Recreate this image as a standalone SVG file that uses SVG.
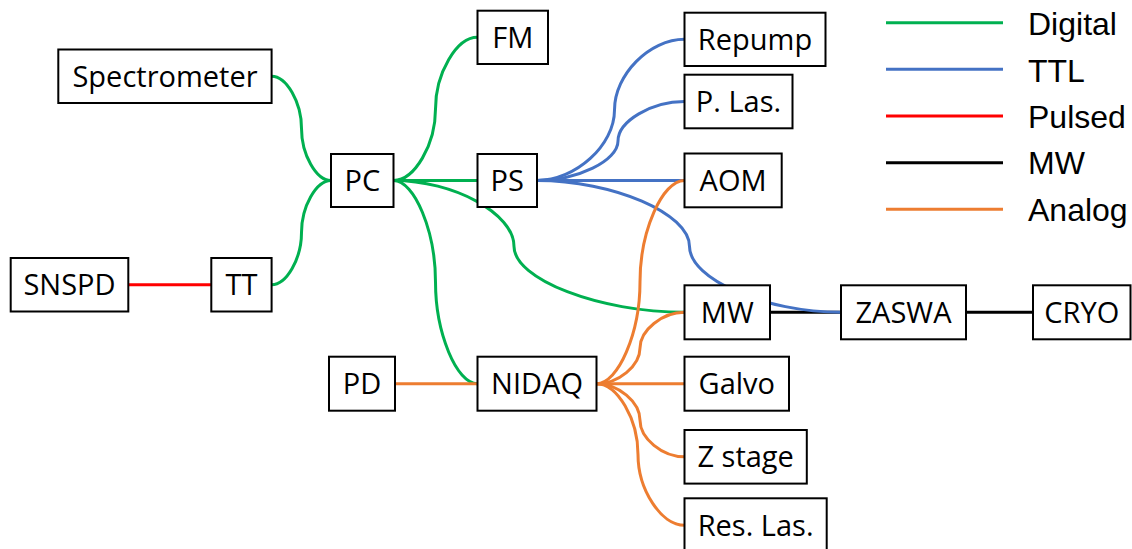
<svg xmlns="http://www.w3.org/2000/svg" width="1132" height="549" viewBox="0 0 1132 549">
<style>
.box rect{fill:#fff;stroke:#000;stroke-width:2}
.box text{font-family:"Open Sans","Noto Sans",sans-serif;font-size:29px;fill:#000;text-anchor:middle}
.c{fill:none;stroke-width:3}
.g{stroke:#00B050}.b{stroke:#4472C4}.r{stroke:#FF0000}.k{stroke:#000}.o{stroke:#ED7D31}
.lg{font-family:"Liberation Sans",Arial,sans-serif;font-size:32px;fill:#000}
</style>
<rect width="1132" height="549" fill="#fff"/>
<g id="connectors">
<path class="c g" d="M271.6,76.3 C286.5,76.3 301.5,102.4 301.5,128.4 C301.5,154.4 316.2,180.5 331,180.5"/>
<path class="c g" d="M271.6,284.7 C286.5,284.7 301.5,258.7 301.5,232.6 C301.5,206.6 316.2,180.5 331,180.5"/>
<path class="c g" d="M393.5,180.5 C414.5,180.5 435.5,144.7 435.5,108.9 C435.5,73.1 456.5,37.3 477.5,37.3"/>
<path class="c g" d="M393.5,180.5 L477.5,180.5"/>
<path class="c g" d="M393.5,180.5 C414.5,180.5 435.5,231.3 435.5,282.1 C435.5,332.9 456.5,383.7 477.5,383.7"/>
<path class="c g" d="M393.5,180.5 C453.8,180.5 514,213.5 514,246.4 C514,279.4 599.3,312.3 684.5,312.3"/>
<path class="c k" d="M770,312.3 L841,312.3"/>
<path class="c k" d="M966,312.3 L1033,312.3"/>
<path class="c b" d="M537,180.5 C575.8,180.5 614.5,145.2 614.5,109.9 C614.5,74.6 649.5,39.3 684.5,39.3"/>
<path class="c b" d="M537,180.5 C577.5,180.5 618,160.8 618,141 C618,121.3 651.3,101.5 684.5,101.5"/>
<path class="c b" d="M537,180.5 L684.5,180.5"/>
<path class="c b" d="M537,180.5 C613.3,180.5 689.5,213.5 689.5,246.4 C689.5,279.4 765.3,312.3 841,312.3"/>
<path class="c o" d="M395,383.7 L477.5,383.7"/>
<path class="c o" d="M596.5,383.7 C618.3,383.7 640,332.9 640,282 C640,231.2 662.3,180.4 684.5,180.4"/>
<path class="c o" d="M596.5,383.7 C618.3,383.7 640,365.9 640,348 C640,330.2 662.3,312.3 684.5,312.3"/>
<path class="c o" d="M596.5,383.7 L684.5,383.7"/>
<path class="c o" d="M596.5,383.7 C618.3,383.7 640,402 640,420.3 C640,438.5 662.3,456.8 684.5,456.8"/>
<path class="c o" d="M596.5,383.7 C617.3,383.7 638,419.1 638,454.5 C638,489.9 661.3,525.3 684.5,525.3"/>
<path class="c r" d="M128.3,284.7 L211.3,284.7"/>
</g>
<g id="spectrometer" class="box"><rect x="58.3" y="49.5" width="213.3" height="53.5"/><text x="165" y="86.6">Spectrometer</text></g>
<g id="fm" class="box"><rect x="477.5" y="10.7" width="70.5" height="53.3"/><text x="512.8" y="47.6">FM</text></g>
<g id="pc" class="box"><rect x="331" y="154" width="62.5" height="53"/><text x="362.3" y="190.8">PC</text></g>
<g id="ps" class="box"><rect x="477.5" y="154" width="59.5" height="53"/><text x="507.3" y="190.8">PS</text></g>
<g id="snspd" class="box"><rect x="10.7" y="258" width="117.6" height="53.5"/><text x="69.5" y="295">SNSPD</text></g>
<g id="tt" class="box"><rect x="211.3" y="258" width="60.3" height="53.5"/><text x="241.5" y="295">TT</text></g>
<g id="pd" class="box"><rect x="329" y="356.7" width="66" height="54"/><text x="362" y="394">PD</text></g>
<g id="nidaq" class="box"><rect x="477.5" y="356.7" width="119" height="54"/><text x="537" y="394">NIDAQ</text></g>
<g id="repump" class="box"><rect x="684.5" y="12.7" width="141" height="53.3"/><text x="755" y="49.6">Repump</text></g>
<g id="plas" class="box"><rect x="684.5" y="74.7" width="108" height="53.6"/><text x="738.5" y="111.8">P. Las.</text></g>
<g id="aom" class="box"><rect x="684.5" y="153.5" width="97.2" height="53.8"/><text x="733.1" y="190.7">AOM</text></g>
<g id="mw" class="box"><rect x="684.5" y="285.3" width="85.5" height="54"/><text x="727.3" y="322.6">MW</text></g>
<g id="zaswa" class="box"><rect x="841" y="285.3" width="125" height="54"/><text x="903.5" y="322.6">ZASWA</text></g>
<g id="cryo" class="box"><rect x="1033" y="285.3" width="97.5" height="54"/><text x="1081.8" y="322.6">CRYO</text></g>
<g id="galvo" class="box"><rect x="684.5" y="356.7" width="104.5" height="54"/><text x="736.8" y="394">Galvo</text></g>
<g id="zstage" class="box"><rect x="684.5" y="430" width="122.3" height="53.6"/><text x="745.7" y="467.1">Z stage</text></g>
<g id="reslas" class="box"><rect x="684.5" y="498.3" width="142.2" height="54"/><text x="755.6" y="535.6">Res. Las.</text></g>
<g id="legend">
<path class="c g" d="M886,22.7 L1003,22.7"/>
<path class="c b" d="M886,69.3 L1003,69.3"/>
<path class="c r" d="M886,116 L1003,116"/>
<path class="c k" d="M886,162.7 L1003,162.7"/>
<path class="c o" d="M886,209.3 L1003,209.3"/>
<text class="lg" x="1028" y="35">Digital</text>
<text class="lg" x="1028" y="81.7">TTL</text>
<text class="lg" x="1028" y="128.3">Pulsed</text>
<text class="lg" x="1028" y="174.3">MW</text>
<text class="lg" x="1028" y="220.5">Analog</text>
</g>
</svg>
